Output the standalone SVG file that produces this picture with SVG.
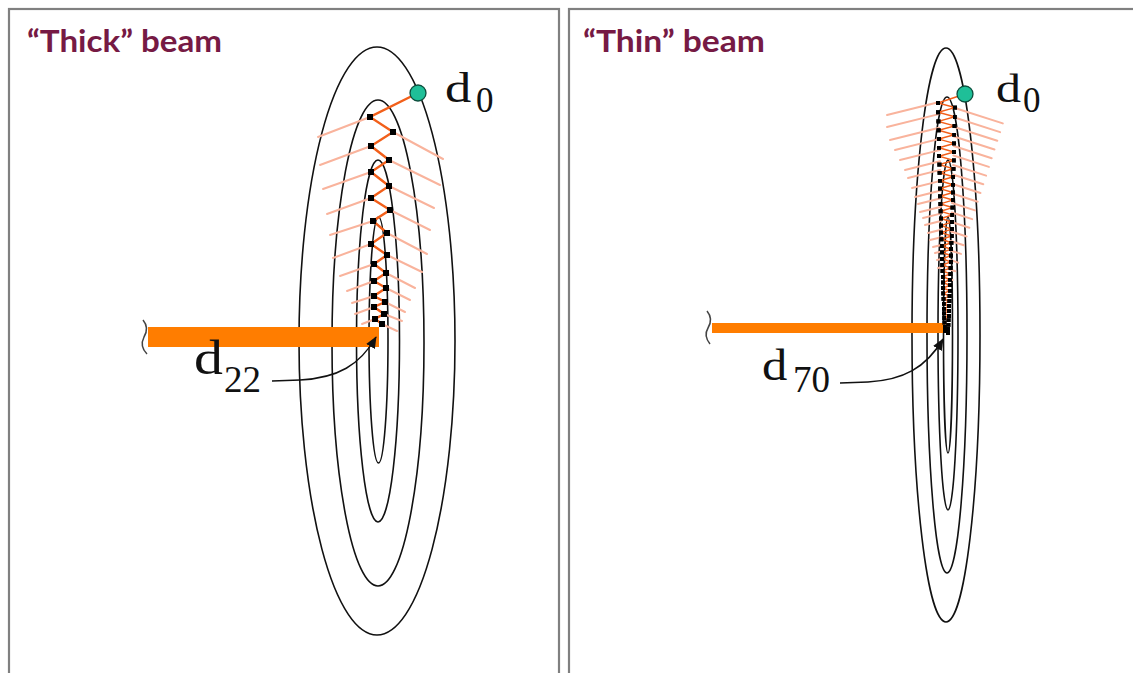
<svg xmlns="http://www.w3.org/2000/svg" width="1133" height="673" viewBox="0 0 1133 673">
<defs>
<style>
.frame{fill:#fff;stroke:#808080;stroke-width:2.2}
.contour{fill:none;stroke:#111;stroke-width:1.6}
.pink{stroke:#f9b39c;stroke-width:2;fill:none;stroke-linecap:round}
.zig{fill:none;stroke:#f25f1a;stroke-linejoin:miter}
.bar{fill:#ff7d00}
.dot{fill:#1fbf98;stroke:#0d4d3c;stroke-width:1.3}
.title{font-family:Lato,'Open Sans',sans-serif;font-weight:700;font-size:30px;fill:#761a44}
.serif{font-family:'Liberation Serif','Times New Roman',serif;fill:#111}
.tick{fill:none;stroke:#444;stroke-width:1.5}
.conn{fill:none;stroke:#111;stroke-width:1.5}
</style>
<marker id="sqL" markerUnits="userSpaceOnUse" markerWidth="6.5" markerHeight="6.5" refX="3.25" refY="3.25"><rect width="6.5" height="6.5" fill="#000"/></marker>
<marker id="sqR" markerUnits="userSpaceOnUse" markerWidth="4.4" markerHeight="4.4" refX="2.2" refY="2.2"><rect width="4.4" height="4.4" fill="#000"/></marker>
<marker id="arrow" markerUnits="userSpaceOnUse" markerWidth="12" markerHeight="10" refX="11" refY="5" orient="auto"><path d="M0,0 L12,5 L0,10 z" fill="#111"/></marker>
</defs>
<rect width="1133" height="673" fill="#fff"/>

<g id="panel-thick">
<rect class="frame" x="9" y="9" width="550" height="700"/>
<text class="title" x="27" y="52" textLength="195" lengthAdjust="spacingAndGlyphs">“Thick” beam</text>
<g id="contours-left">
<ellipse class="contour" cx="377" cy="341" rx="78" ry="294"/>
<ellipse class="contour" cx="378" cy="343" rx="46" ry="243"/>
<ellipse class="contour" cx="378" cy="341" rx="21.5" ry="181"/>
<ellipse class="contour" cx="378.5" cy="340" rx="9.5" ry="123"/>
</g>
<g id="beam-lines-left" class="pink">
<line x1="318" y1="137" x2="370" y2="117"/>
<line x1="320" y1="165" x2="371" y2="146"/>
<line x1="323" y1="189" x2="371" y2="172"/>
<line x1="327" y1="214" x2="371" y2="198"/>
<line x1="330" y1="235" x2="373" y2="221"/>
<line x1="333" y1="258" x2="371" y2="244"/>
<line x1="340" y1="276" x2="374" y2="264"/>
<line x1="347" y1="291" x2="374" y2="281"/>
<line x1="352" y1="303" x2="374" y2="296"/>
<line x1="355" y1="314" x2="374" y2="307"/>
<line x1="362" y1="324" x2="375" y2="319"/>
<line x1="393" y1="132" x2="443" y2="159"/>
<line x1="389" y1="160" x2="440" y2="185"/>
<line x1="389" y1="186" x2="434" y2="208"/>
<line x1="390" y1="210" x2="430" y2="230"/>
<line x1="387" y1="233" x2="427" y2="254"/>
<line x1="387" y1="255" x2="422" y2="272"/>
<line x1="386" y1="273" x2="415" y2="288"/>
<line x1="386" y1="288" x2="410" y2="300"/>
<line x1="385" y1="302" x2="405" y2="312"/>
<line x1="384" y1="314" x2="402" y2="321"/>
<line x1="382" y1="324" x2="397" y2="331"/>
</g>
<path class="tick" d="M143,320 C148,326 147,332 144,337 C141,343 142,349 147,354"/>
<rect id="bar-left" class="bar" x="148" y="327" width="231" height="20"/>
<polyline id="path-left" class="zig" stroke-width="2.4" marker-mid="url(#sqL)" marker-end="url(#sqL)" points="418,93 370,117 393,132 371,146 389,160 371,172 389,186 371,198 390,210 373,221 387,233 371,244 387,255 374,264 386,273 374,281 386,288 374,296 385,302 374,307 384,314 375,319 382,324"/>
<circle id="d0-left" class="dot" cx="418" cy="93" r="8"/>
<g id="label-d0-left">
<text class="serif" transform="translate(445,102) scale(1.25,1)" font-size="42">d</text>
<text class="serif" x="476" y="112" font-size="35">0</text>
</g>
<g id="label-d22">
<text class="serif" transform="translate(194,374) scale(1.18,1)" font-size="49">d</text>
<text class="serif" x="224" y="392" font-size="37">22</text>
</g>
</g>

<g id="panel-thin">
<rect class="frame" x="569" y="9" width="600" height="700"/>
<text class="title" x="583" y="52" textLength="182" lengthAdjust="spacingAndGlyphs">“Thin” beam</text>
<g id="contours-right">
<ellipse class="contour" cx="946" cy="335" rx="34" ry="287"/>
<ellipse class="contour" cx="947" cy="335" rx="20" ry="238"/>
<ellipse class="contour" cx="948" cy="335" rx="10" ry="175"/>
<ellipse class="contour" cx="948" cy="335" rx="4.5" ry="118"/>
</g>
<g id="beam-lines-right" class="pink">
<line x1="887" y1="115" x2="938.3" y2="102.2"/>
<line x1="887" y1="127" x2="938.8" y2="114.1"/>
<line x1="890" y1="140" x2="939.1" y2="127.7"/>
<line x1="895" y1="150" x2="939.4" y2="138.9"/>
<line x1="900" y1="160" x2="939.7" y2="150.1"/>
<line x1="905" y1="170" x2="940" y2="161.3"/>
<line x1="908" y1="178" x2="940.3" y2="169.9"/>
<line x1="912" y1="188" x2="940.6" y2="180.9"/>
<line x1="915" y1="197" x2="940.9" y2="190.5"/>
<line x1="918" y1="204" x2="941.1" y2="198.2"/>
<line x1="920" y1="212" x2="941.3" y2="206.7"/>
<line x1="923" y1="218" x2="941.5" y2="213.4"/>
<line x1="925" y1="225" x2="941.7" y2="220.8"/>
<line x1="928" y1="233" x2="942" y2="229.5"/>
<line x1="930" y1="240" x2="942.2" y2="237"/>
<line x1="933" y1="247" x2="942.4" y2="244.7"/>
<line x1="935" y1="253" x2="942.6" y2="251.1"/>
<line x1="937" y1="260" x2="942.8" y2="258.6"/>
<line x1="938" y1="268" x2="943" y2="266.8"/>
<line x1="954.8" y1="108" x2="1002.8" y2="123.4"/>
<line x1="954.6" y1="117.5" x2="1000.1" y2="132.1"/>
<line x1="954.3" y1="127" x2="997.3" y2="140.8"/>
<line x1="954" y1="136.5" x2="994.5" y2="149.5"/>
<line x1="953.7" y1="146" x2="991.7" y2="158.2"/>
<line x1="953.4" y1="155.5" x2="988.9" y2="166.9"/>
<line x1="953.1" y1="165" x2="986.1" y2="175.6"/>
<line x1="952.8" y1="174.5" x2="983.3" y2="184.3"/>
<line x1="952.5" y1="184" x2="980.5" y2="193"/>
<line x1="952.2" y1="193.5" x2="977.7" y2="201.7"/>
<line x1="952" y1="203" x2="975" y2="210.4"/>
<line x1="951.7" y1="212.5" x2="972.2" y2="219.1"/>
<line x1="951.4" y1="222" x2="969.4" y2="227.8"/>
<line x1="951.1" y1="231.5" x2="966.6" y2="236.5"/>
<line x1="950.8" y1="241" x2="963.8" y2="245.2"/>
<line x1="950.5" y1="250.5" x2="961" y2="253.9"/>
<line x1="950.2" y1="260" x2="958.2" y2="262.6"/>
<line x1="949.9" y1="269.5" x2="955.4" y2="271.3"/>
<line x1="949.6" y1="279" x2="952.6" y2="280"/>
</g>
<path class="tick" d="M707,311 C712,317 711,323 708,328 C705,333 706,339 710,344"/>
<rect id="bar-right" class="bar" x="712" y="323" width="233" height="10"/>
<polyline id="path-right" class="zig" stroke-width="1.5" marker-mid="url(#sqR)" marker-end="url(#sqR)" points="965,94 938,103 954.9,107.6 938.2,112.3 954.7,116.8 938.4,121.4 954.5,125.9 938.6,130.3 954.3,134.7 938.8,139.1 954.1,143.4 939,147.7 953.9,152 939.2,156.2 953.7,160.4 939.4,164.6 953.5,168.7 939.6,172.7 953.3,176.8 939.8,180.7 953.1,184.7 940,188.6 952.9,192.5 940.2,196.3 952.7,200.1 940.4,203.9 952.5,207.6 940.6,211.3 952.3,214.9 940.8,218.5 952.1,222.1 941,225.6 951.9,229.1 941.2,232.6 951.7,236 941.4,239.3 951.4,242.7 941.7,246 951.2,249.2 941.9,252.4 951,255.6 942.1,258.8 950.8,261.9 942.3,264.9 950.6,267.9 942.5,270.9 950.4,273.9 942.7,276.8 950.2,279.7 942.9,282.5 950,285.3 943.1,288 949.8,290.7 943.3,293.4 949.6,296.1 943.5,298.7 949.4,301.2 943.7,303.7 949.2,306.2 943.9,308.7 949,311.1 944.1,313.4 948.8,315.8 944.3,318.1 948.6,320.3 944.5,322.5 948.4,324.7 944.7,326.8 948.2,328.9 944.9,331 948,333"/>
<circle id="d0-right" class="dot" cx="965" cy="94" r="8"/>
<g id="label-d0-right">
<text class="serif" transform="translate(996,102) scale(1.22,1)" font-size="41">d</text>
<text class="serif" x="1023" y="112" font-size="35">0</text>
</g>
<g id="label-d70">
<text class="serif" transform="translate(762,380) scale(1.15,1)" font-size="44">d</text>
<text class="serif" x="793" y="392" font-size="37">70</text>
</g>
</g>

<g id="connectors">
<path class="conn" marker-end="url(#arrow)" d="M272,381 L300,380 C338,378 360,365 376,337"/>
<path class="conn" marker-end="url(#arrow)" d="M840,383 L868,382 C903,380 926,368 943,339"/>
</g>
</svg>
